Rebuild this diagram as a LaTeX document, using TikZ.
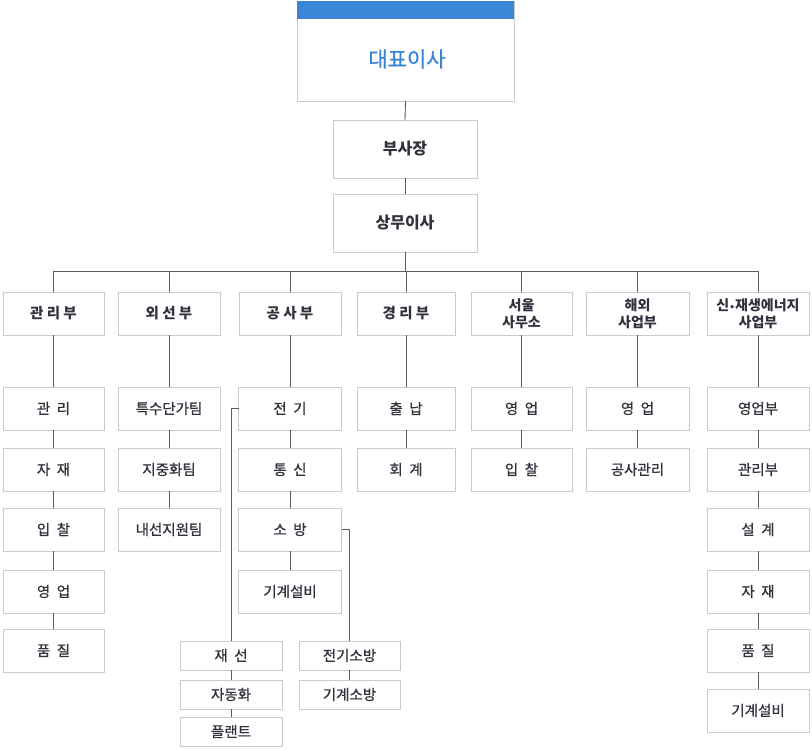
\documentclass[tikz,border=0pt]{standalone}
\usepackage{fontspec}
\setmainfont{Noto Sans CJK KR}
\newfontfamily\medfont{Noto Sans CJK KR}[FakeBold=0.7]
\newfontfamily\dotfont{DejaVu Sans}
\begin{document}
\begin{tikzpicture}[x=1pt,y=-1pt,
  every node/.style={inner sep=0pt, outer sep=0pt, align=center},
  bx/.style={draw=boxgray, line width=0.9pt, fill=white, text=txt},
  dept/.style={bx, minimum height=43pt, font=\fontsize{14.5}{18}\selectfont\bfseries},
  sub/.style={bx, minimum height=43pt, font=\medfont\fontsize{14.5}{17}\selectfont},
  low/.style={bx, minimum height=29pt, minimum width=102pt, font=\medfont\fontsize{14.5}{17}\selectfont},
  ln/.style={draw=linegray, line width=0.9pt}]
\definecolor{boxgray}{HTML}{CACACA}
\definecolor{linegray}{HTML}{5A5A66}
\definecolor{txt}{HTML}{30323C}
\definecolor{ceoblue}{HTML}{3A85D6}
\useasboundingbox (0,0) rectangle (812,750);
% top
\node[bx, minimum width=217pt, minimum height=100pt] (ceo) at (405.5,51) {};
\fill[ceoblue] (297,1) rectangle (514,18.5);
\node[text=ceoblue, font=\medfont\fontsize{21}{25}\selectfont] (ceot) at (407,59) {대표이사};
\node[bx, minimum width=144pt, minimum height=58pt, font=\fontsize{16}{20}\selectfont\bfseries] (vp) at (405,149) {부사장};
\node[bx, minimum width=144pt, minimum height=58pt, font=\fontsize{16}{20}\selectfont\bfseries] (md) at (405,223) {상무이사};
\draw[ln] (ceo.south) -- (vp.north);
\draw[ln] (vp.south) -- (md.north);
\coordinate (bus) at (405,271);
% departments
\node[dept, minimum width=101pt] (d1) at (53.5,313.5) {관 리 부};
\node[dept, minimum width=102pt] (d2) at (169,313.5) {외 선 부};
\node[dept, minimum width=102pt] (d3) at (290,313.5) {공 사 부};
\node[dept, minimum width=98pt] (d4) at (406,313.5) {경 리 부};
\node[dept, minimum width=101pt, font=\fontsize{14}{17}\selectfont\bfseries] (d5) at (521.5,313.5) {서울\\사무소};
\node[dept, minimum width=103pt, font=\fontsize{14}{17}\selectfont\bfseries] (d6) at (637.5,313.5) {해외\\사업부};
\node[dept, minimum width=102pt, font=\fontsize{14}{17}\selectfont\bfseries] (d7) at (758,313.5) {신{\dotfont\fontsize{9}{12}\selectfont •}재생에너지\\사업부};
\draw[ln] (md.south) -- (bus);
\draw[ln] (d1.north) -- (d1.north |- bus) -- (d7.north |- bus) -- (d7.north);
\foreach \d in {d2,d3,d4,d5,d6}{\draw[ln] (\d.north |- bus) -- (\d.north);}
% column 1
\node[sub, minimum width=101pt] (a1) at (53.5,408.5) {관 \ 리};
\node[sub, minimum width=101pt] (a2) at (53.5,469.5) {자 \ 재};
\node[sub, minimum width=101pt] (a3) at (53.5,529.5) {입 \ 찰};
\node[sub, minimum width=101pt] (a4) at (53.5,591.5) {영 \ 업};
\node[sub, minimum width=101pt] (a5) at (53.5,650.5) {품 \ 질};
\draw[ln] (d1) -- (a1) -- (a2) -- (a3) -- (a4) -- (a5);
% column 2
\node[sub, minimum width=102pt] (b1) at (169,408.5) {특수단가팀};
\node[sub, minimum width=102pt] (b2) at (169,469.5) {지중화팀};
\node[sub, minimum width=102pt] (b3) at (169,529.5) {내선지원팀};
\draw[ln] (d2) -- (b1) -- (b2) -- (b3);
% column 3
\node[sub, minimum width=103pt] (c1) at (290,408.5) {전 \ 기};
\node[sub, minimum width=103pt] (c2) at (290,469.5) {통 \ 신};
\node[sub, minimum width=103pt] (c3) at (290,529.5) {소 \ 방};
\node[sub, minimum width=103pt] (c4) at (290,591.5) {기계설비};
\draw[ln] (d3) -- (c1) -- (c2) -- (c3) -- (c4);
\node[low] (e1) at (231,655.5) {재 \ 선};
\node[low] (e2) at (231,694.5) {자동화};
\node[low] (e3) at (231,731.5) {플랜트};
\node[low, minimum width=101pt] (f1) at (349.5,655.5) {전기소방};
\node[low, minimum width=101pt] (f2) at (349.5,694.5) {기계소방};
\draw[ln] (c1.west) -| (e1.north);
\draw[ln] (e1) -- (e2) -- (e3);
\draw[ln] (c3.east) -| (f1.north);
\draw[ln] (f1) -- (f2);
% column 4
\node[sub, minimum width=98pt] (g1) at (406,408.5) {출 \ 납};
\node[sub, minimum width=98pt] (g2) at (406,469.5) {회 \ 계};
\draw[ln] (d4) -- (g1) -- (g2);
% column 5
\node[sub, minimum width=101pt] (h1) at (521.5,408.5) {영 \ 업};
\node[sub, minimum width=101pt] (h2) at (521.5,469.5) {입 \ 찰};
\draw[ln] (d5) -- (h1) -- (h2);
% column 6
\node[sub, minimum width=103pt] (i1) at (637.5,408.5) {영 \ 업};
\node[sub, minimum width=103pt] (i2) at (637.5,469.5) {공사관리};
\draw[ln] (d6) -- (i1) -- (i2);
% column 7
\node[sub, minimum width=102pt] (j1) at (758,408.5) {영업부};
\node[sub, minimum width=102pt] (j2) at (758,469.5) {관리부};
\node[sub, minimum width=102pt] (j3) at (758,529.5) {설 \ 계};
\node[sub, minimum width=102pt] (j4) at (758,591.5) {자 \ 재};
\node[sub, minimum width=102pt] (j5) at (758,650.5) {품 \ 질};
\node[sub, minimum width=102pt] (j6) at (758,710.5) {기계설비};
\draw[ln] (d7) -- (j1) -- (j2) -- (j3) -- (j4) -- (j5) -- (j6);
\end{tikzpicture}
\end{document}
